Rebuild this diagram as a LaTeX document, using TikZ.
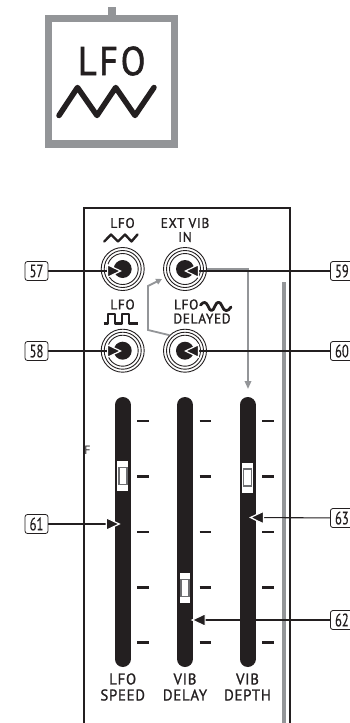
\documentclass[tikz,border=0pt]{standalone}
\usepackage{fontspec}
\setmainfont{PT Sans}
\newfontfamily\panelfont[LetterSpace=5,FakeStretch=0.95,FakeBold=1.2]{PT Sans}
\newfontfamily\numfont[FakeStretch=0.7,FakeBold=0.4]{PT Sans}
\newfontfamily\bigfont[FakeStretch=0.9,LetterSpace=7,FakeBold=1.6]{PT Sans}
\usetikzlibrary{arrows.meta,calc}
\definecolor{ink}{HTML}{231F20}
\definecolor{midgrey}{HTML}{939598}
\definecolor{knobgrey}{HTML}{6D6E71}
\tikzset{
  numbox/.style={draw=ink,line width=0.8pt,rounded corners=2.5pt,minimum width=23pt,minimum height=19pt,inner sep=0pt,font=\numfont\fontsize{18}{18}\selectfont,text=ink},
  lbl/.style={font=\panelfont\fontsize{14}{14}\selectfont,text=ink,align=center,inner sep=0pt},
  sliderlbl/.style={font=\panelfont\fontsize{15.5}{16}\selectfont,text=ink,align=center,inner sep=0pt},
  jack/.style={circle,draw=ink,line width=0.9pt,minimum size=43pt,inner sep=0pt},
  ringa/.style={circle,draw=ink,line width=0.9pt,minimum size=37pt,inner sep=0pt},
  ringb/.style={circle,draw=ink,line width=0.9pt,minimum size=31pt,inner sep=0pt},
  hole/.style={circle,fill=ink,minimum size=18pt,inner sep=0pt},
  pointer/.style={draw=ink,line width=1.1pt,-{Triangle[length=15pt,width=14pt,color=white,fill=ink,line width=1.2pt]}},
  greyline/.style={draw=midgrey,line width=1.8pt,line join=miter},
  wave/.style={draw=ink,line width=2.4pt,line join=round,line cap=round},
  bigwave/.style={draw=ink,line width=5.5pt,line join=round,line cap=round},
  slot/.style={draw=ink,line width=16pt,line cap=round},
  tickm/.style={draw=ink,line width=2.6pt},
  knobcap/.style={fill=white,minimum width=10.5pt,minimum height=30pt,inner sep=0pt},
  capin/.style={draw=knobgrey,fill=white,line width=1.6pt,minimum width=8pt,minimum height=17pt,inner sep=0pt},
}
\begin{document}
\begin{tikzpicture}[x=1pt,y=-1pt]
\useasboundingbox (0,0) rectangle (350,723);
% LFO symbol
\draw[midgrey,line width=7.6pt] (48.6,18.6) rectangle (174.6,143.8);
\draw[midgrey,line width=8pt] (111.7,7) -- (111.7,15);
\node[font=\bigfont\fontsize{40}{40}\selectfont,text=ink,inner sep=0pt,anchor=center] (biglfo) at (111.7,61) {LFO};
\draw[bigwave] (59,115.5) -- (77.5,87.5) -- (97,115.5) -- (115.7,87.5) -- (135,115.5) -- (154,87.5);
% Frame
\draw[ink,line width=1.9pt] (84.3,723) -- (84.3,208.3) -- (290,208.3) -- (290,723);
\draw[midgrey,line width=4pt] (283.5,282) -- (283.5,723);
% Stray letter
\node[font=\fontsize{12}{12}\selectfont,text=ink,inner sep=0pt] (strayf) at (87.5,450) {F};
% Jacks
\foreach \n/\x/\y in {a/122.7/269,b/185/269,c/122.7/350.7,d/185/350.7}{
  \node[jack] (j\n) at (\x,\y) {};
  \node[ringa] at (\x,\y) {};
  \node[ringb] at (\x,\y) {};
  \node[hole] (h\n) at (\x,\y) {};
}
% Jack labels
\node[lbl] (l57) at (122.5,223) {LFO};
\draw[wave] (104.3,241.5) -- (111,234.5) -- (118,241.5) -- (125,234.5) -- (131.5,241.5) -- (137.5,234.5);
\node[lbl] (l59) at (185,230) {EXT VIB\\IN};
\node[lbl] (l58) at (122.5,304.5) {LFO};
\draw[wave,line cap=butt] (103.5,323.5) -- (108,323.5) -- (108,314) -- (115,314) -- (115,323.5) -- (122,323.5) -- (122,314) -- (129,314) -- (129,323.5) -- (137.5,323.5);
\node[lbl,anchor=east] (l60a) at (198.5,304.5) {LFO};
\draw[wave,line width=2.8pt] (200.5,305) .. controls (204,301) and (206,302) .. (208,306) .. controls (210,312) and (213,312) .. (215,306) .. controls (217,301) and (220,301) .. (222,306) .. controls (224,312) and (228,312) .. (231,307);
\node[lbl] (l60b) at (202,318.5) {DELAYED};
% Sliders
\foreach \n/\x/\ty in {a/122.7/476,b/185/588,c/247.5/477.5}{
  \draw[slot] (\x,405) -- (\x,659);
  \foreach \t in {421,476.5,532,587.5,642.7}{
    \draw[tickm] ($(\x,\t)+(14.5,0)$) -- ++(11.5,0);
  }
  \node[knobcap] (k\n) at (\x,\ty) {};
  \node[capin] at (\x,\ty) {};
}
\node[sliderlbl] (s1) at (122.7,687) {LFO\\SPEED};
\node[sliderlbl] (s2) at (185,687) {VIB\\DELAY};
\node[sliderlbl] (s3) at (247.5,687) {VIB\\DEPTH};
% Callouts
\node[numbox] (n57) at (36.5,271) {57};
\node[numbox] (n58) at (36.5,351) {58};
\node[numbox] (n61) at (36.5,524) {61};
\node[numbox,anchor=west] (n59) at (330,271) {59};
\node[numbox,anchor=west] (n60) at (330,351) {60};
\node[numbox,anchor=west] (n63) at (330,518) {63};
\node[numbox,anchor=west] (n62) at (330,620) {62};
% Grey signal routes
\coordinate (corner) at (248,269);
\coordinate (end59) at (248,389);
\draw[greyline,-{Triangle[length=8pt,width=6.5pt]}] (jb.east) -- (corner) -- (end59);
\coordinate (g1) at (148,330);
\coordinate (g2) at (148,286);
\coordinate (g3) at (162,279);
\draw[greyline,-{Triangle[length=6pt,width=6pt]}] (jd.north west) -- (g1) -- (g2) -- (g3);
% Pointers
\coordinate (t57) at (122,271);
\coordinate (t58) at (122,351);
\coordinate (t59) at (184,271);
\coordinate (t60) at (184,351);
\coordinate (t61) at (120.7,524);
\coordinate (t62) at (190.7,620);
\coordinate (t63) at (249,517.5);
\draw[pointer] (n57) -- (t57);
\draw[pointer] (n58) -- (t58);
\draw[pointer] (n61) -- (t61);
\draw[pointer] (n59) -- (t59);
\draw[pointer] (n60) -- (t60);
\draw[pointer] (n62) -- (t62);
\draw[pointer] (n63) -- (t63);
\end{tikzpicture}
\end{document}
